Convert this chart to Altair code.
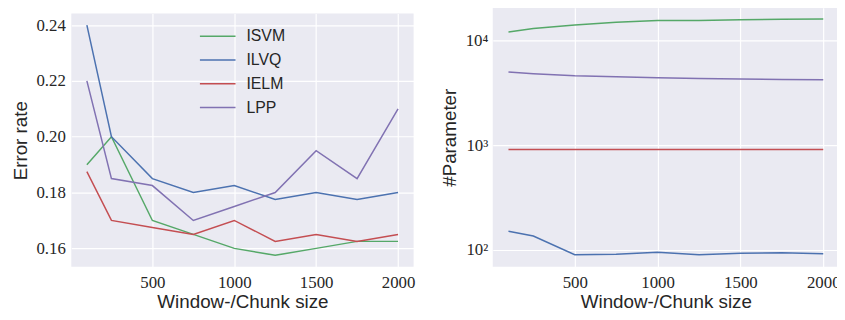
import altair as alt
import pandas as pd

sizes = [100, 250, 500, 750, 1000, 1250, 1500, 1750, 2000]
models = ["ISVM", "ILVQ", "IELM", "LPP"]
colors = ["#55A868", "#4C72B0", "#C44E52", "#8172B2"]

err_isvm = [0.19, 0.20, 0.17, 0.165, 0.16, 0.1575, 0.16, 0.1625, 0.1625]
err_ilvq = [0.24, 0.20, 0.185, 0.18, 0.1825, 0.1775, 0.18, 0.1775, 0.18]
err_ielm = [0.1875, 0.17, 0.1675, 0.165, 0.17, 0.1625, 0.165, 0.1625, 0.165]
err_lpp = [0.22, 0.185, 0.1825, 0.17, 0.175, 0.18, 0.195, 0.185, 0.21]

par_isvm = [12000, 13000, 14000, 14900, 15500, 15500, 15700, 15900, 16000]
par_ilvq = [151, 136, 90, 91, 95, 90, 93, 94, 92]
par_ielm = [910, 910, 910, 910, 910, 910, 910, 910, 910]
par_lpp = [4980, 4800, 4590, 4490, 4390, 4330, 4270, 4240, 4200]

err_ticks = [0.16, 0.18, 0.20, 0.22, 0.24]
x_ticks = [500, 1000, 1500, 2000]
par_ticks = [100, 1000, 10000]

rows = []
for m, e, p in zip(models, [err_isvm, err_ilvq, err_ielm, err_lpp],
                   [par_isvm, par_ilvq, par_ielm, par_lpp]):
    for s, ev, pv in zip(sizes, e, p):
        rows.append({"size": s, "model": m, "err": ev, "par": pv})
df = pd.DataFrame(rows)

tick_font = "Liberation Serif"
title_font = "Liberation Sans"
txt = "#262626"

def x_enc():
    return alt.X("size:Q",
                 scale=alt.Scale(domain=[5, 2095], nice=False, zero=False),
                 axis=alt.Axis(values=x_ticks, format="d", title="Window-/Chunk size",
                               labelFont=tick_font, labelFontSize=17,
                               labelColor=txt, titleFont=title_font,
                               titleFontSize=19, titleFontWeight="normal",
                               titleColor=txt, labelPadding=8, titlePadding=2,
                               domain=False, ticks=False, gridColor="white",
                               gridWidth=1.2, labelFlush=False))

left = alt.Chart(df).mark_line(strokeWidth=1.5).encode(
    x=x_enc(),
    y=alt.Y("err:Q",
            scale=alt.Scale(domain=[0.153375, 0.244125], nice=False, zero=False),
            axis=alt.Axis(values=err_ticks, format=".2f", title="Error rate",
                          labelFont=tick_font, labelFontSize=17, labelColor=txt,
                          titleFont=title_font, titleFontSize=19,
                          titleFontWeight="normal", titleColor=txt,
                          labelPadding=6, titlePadding=6, domain=False,
                          ticks=False, gridColor="white", gridWidth=1.2)),
    color=alt.Color("model:N", sort=models,
                    scale=alt.Scale(domain=models, range=colors),
                    legend=alt.Legend(title=None, orient="none", legendX=135,
                                      legendY=16, symbolType="M-1.5,0H1.5",
                                      symbolSize=576, symbolStrokeWidth=1.5,
                                      symbolFillColor="transparent",
                                      labelFont=title_font, labelFontSize=16,
                                      labelColor=txt, labelOffset=16,
                                      rowPadding=3)),
).properties(width=346, height=256)

spacer = alt.Chart(pd.DataFrame({"a": [0]})).mark_point(opacity=0).properties(
    width=346, height=6, view=alt.ViewBackground(fill="white", stroke=None)
)

right = alt.Chart(df).mark_line(strokeWidth=1.5).encode(
    x=x_enc(),
    y=alt.Y("par:Q",
            scale=alt.Scale(type="log", domain=[69, 20500], nice=False),
            axis=alt.Axis(values=par_ticks, title="#Parameter",
                          labelExpr="datum.value == 100 ? '10²' : datum.value == 1000 ? '10³' : '10⁴'",
                          labelFont=tick_font, labelFontSize=17, labelColor=txt,
                          titleFont=title_font, titleFontSize=19,
                          titleFontWeight="normal", titleColor=txt,
                          labelPadding=5, titlePadding=6, domain=False,
                          ticks=False, gridColor="white", gridWidth=1.2)),
    color=alt.Color("model:N", scale=alt.Scale(domain=models, range=colors),
                    legend=None),
).properties(width=350, height=262)

left_col = alt.vconcat(spacer, left, spacing=0)

chart = alt.hconcat(left_col, right, spacing=25).resolve_scale(color="independent").properties(
    padding={"left": 3, "top": -2, "right": -4, "bottom": 0}
).configure(background="white").configure_view(fill="#EAEAF2", stroke=None)

chart.save("out.html", embed_options={"renderer": "svg", "actions": False})
